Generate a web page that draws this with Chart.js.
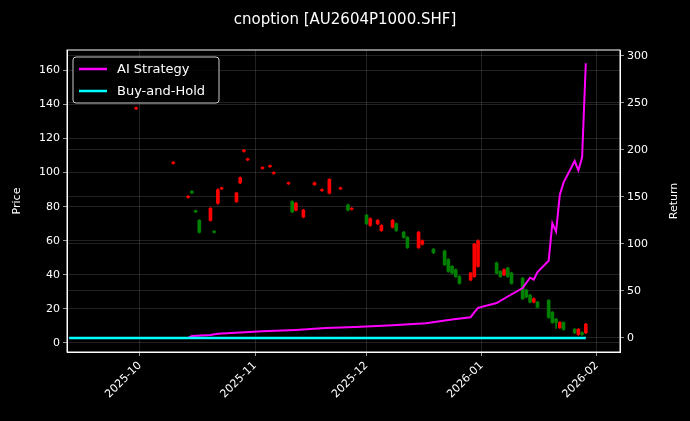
<!DOCTYPE html>
<html>
<head>
<meta charset="utf-8">
<script src="https://cdn.jsdelivr.net/npm/chart.js@4"></script>
<style>
  html, body { margin: 0; padding: 0; background: #000; }
  #wrap { width: 690px; height: 421px; }
</style>
</head>
<body>
<div id="wrap"><canvas id="myChart"></canvas></div>
<script>
// candles: date, open, close, high, low (red = up, green = down)
const candleDates = ['2025-09-30','2025-10-10','2025-10-14','2025-10-15','2025-10-16','2025-10-17','2025-10-20','2025-10-21','2025-10-22','2025-10-23','2025-10-27','2025-10-28','2025-10-29','2025-10-30','2025-11-03','2025-11-05','2025-11-06','2025-11-10','2025-11-11','2025-11-12','2025-11-14','2025-11-17','2025-11-19','2025-11-21','2025-11-24','2025-11-26','2025-11-27','2025-12-01','2025-12-02','2025-12-04','2025-12-05','2025-12-08','2025-12-09','2025-12-11','2025-12-12','2025-12-15','2025-12-16','2025-12-19','2025-12-22','2025-12-23','2025-12-24','2025-12-25','2025-12-26','2025-12-29','2025-12-30','2025-12-31','2026-01-05','2026-01-06','2026-01-07','2026-01-08','2026-01-09','2026-01-12','2026-01-13','2026-01-14','2026-01-15','2026-01-16','2026-01-19','2026-01-20','2026-01-21','2026-01-22','2026-01-23','2026-01-26','2026-01-27','2026-01-28','2026-01-29'];
const candleOpen  = [137.5,105.5,85.5,89,77.5,72,72,65.5,82,90.5,83,94,112.5,107.5,102.5,103.5,99.5,93.5,83,78,74,93,89.5,88,90.5,81,78.5,75,69,70,66,68,70,65,62,56,58,55,54,49,45,43,39,37,39,45,47,42,40,44,41,38,31,28,24,24,25,18,14,9,12,8,5,6,6];
const candleClose = [138,106,86,88,77,65,79,65,90,91,88,97,113,108,103,104,100,94,77,82,78,94,90,96,91,78,79,70,73,72,69,72,66,62,56,65,60,53,46,42,41,39,35,41,58,60,41,39,43,39,35,26,27,24,26,21,15,12,12,12,8,6,8,5,11];
const candleHigh  = [138.5,106.5,86.5,89.5,78,72.5,79.5,66,90.5,91.5,88.5,97.5,113.5,108.5,103.5,104.5,100.5,94.5,83.5,82.5,78.5,94.5,90.5,96.5,91.5,81.5,79.5,75.5,73.5,72.5,69.5,72.5,70.5,65.5,62.5,65.5,60.5,55.5,54.5,49.5,45.5,43.5,39.5,41.5,58.5,60.5,47.5,42.5,43.5,44.5,41.5,38.5,31.5,28.5,26.5,24.5,25.5,18.5,14.5,12.5,12.5,8.5,8.5,6.5,11.5];
const candleLow   = [137,105,85,88,76.5,64.5,71.5,64.5,81.5,90,82.5,93.5,112,107,102,103,99,93,76.5,77.5,73.5,92.5,89,87.5,90,77.5,78,69.5,68.5,69.5,65.5,67.5,65.5,61.5,55.5,55.5,57.5,52.5,45.5,41.5,40.5,38.5,34.5,36.5,38.5,44.5,40.5,38.5,39.5,38.5,34.5,25.5,26.5,23.5,23.5,20.5,14.5,11.5,8.5,8.5,7.5,5.5,4.5,4.5,5.5];

// return lines (right axis)
const strategyDates = ['2025-09-12','2025-10-14','2025-10-15','2025-10-20','2025-10-22','2025-11-03','2025-11-12','2025-11-20','2025-11-28','2025-12-08','2025-12-17','2025-12-24','2025-12-29','2025-12-30','2025-12-31','2026-01-05','2026-01-08','2026-01-12','2026-01-14','2026-01-15','2026-01-16','2026-01-19','2026-01-20','2026-01-21','2026-01-22','2026-01-23','2026-01-26','2026-01-27','2026-01-28','2026-01-29'];
const strategyValues = [0,0,2,3,4.5,7,8.5,10.5,11.5,13.5,15.5,19.5,22,27,32,37,44,53,64,62,70,82,122,113,152,165,188,178,192,292];
const holdDates = ['2025-09-12','2026-01-29'];
const holdValues = [0,0];

const monthTicks = ['2025-10-01','2025-11-01','2025-12-01','2026-01-01','2026-02-01'];
const priceTicks = [0, 20, 40, 60, 80, 100, 120, 140, 160];
const returnTicks = [0, 50, 100, 150, 200, 250, 300];

const base = Date.UTC(2025, 9, 1);
function dayOf(s) {
    const p = s.split('-').map(Number);
    return (Date.UTC(p[0], p[1] - 1, p[2]) - base) / 86400000;
}

const up = '#ff0000', down = '#008000';
const candleColors = candleOpen.map((o, i) => candleClose[i] >= o ? up : down);
const wickData = candleDates.map((d, i) => ({x: dayOf(d), y: [candleLow[i], candleHigh[i]]}));
const bodyData = candleDates.map((d, i) => ({x: dayOf(d), y: [Math.min(candleOpen[i], candleClose[i]), Math.max(candleOpen[i], candleClose[i])]}));

const grid = {color: 'rgba(255,255,255,0.22)', borderDash: [3, 3], lineWidth: 0.6, tickColor: '#fff', tickLength: 4};
const tickFont = {family: 'DejaVu Sans', size: 11};

const overlay = {
    id: 'overlay',
    afterDraw(chart) {
        const c = chart.ctx, a = chart.chartArea;
        c.save();
        c.fillStyle = '#fff';
        c.font = '15px DejaVu Sans';
        c.textAlign = 'center';
        c.textBaseline = 'middle';
        c.fillText('cnoption [AU2604P1000.SHF]', 345, 20);
        // axis titles
        c.font = '11px DejaVu Sans';
        c.save();
        c.translate(17, (a.top + a.bottom) / 2);
        c.rotate(-Math.PI / 2);
        c.fillText('Price', 0, 0);
        c.restore();
        c.save();
        c.translate(674, (a.top + a.bottom) / 2);
        c.rotate(-Math.PI / 2);
        c.fillText('Return', 0, 0);
        c.restore();
        // frame
        c.strokeStyle = '#fff';
        c.lineWidth = 1;
        c.strokeRect(a.left, a.top, a.right - a.left, a.bottom - a.top);
        // legend
        const x0 = a.left + 6, y0 = a.top + 7;
        c.fillStyle = 'rgba(0,0,0,0.8)';
        c.strokeStyle = '#ccc';
        c.beginPath();
        c.roundRect(x0, y0, 146, 46, 3);
        c.fill();
        c.stroke();
        c.font = '13px DejaVu Sans';
        c.textAlign = 'left';
        [['AI Strategy', '#ff00ff'], ['Buy-and-Hold', '#00ffff']].forEach((e, i) => {
            const y = y0 + 12 + i * 22;
            c.strokeStyle = e[1];
            c.lineWidth = 2.5;
            c.beginPath();
            c.moveTo(x0 + 6, y);
            c.lineTo(x0 + 34, y);
            c.stroke();
            c.fillStyle = '#fff';
            c.fillText(e[0], x0 + 44, y + 1);
        });
        c.restore();
    }
};

new Chart(document.getElementById('myChart'), {
    data: {
        datasets: [
            {
                type: 'line', label: 'AI Strategy', yAxisID: 'y2',
                data: strategyDates.map((d, i) => ({x: dayOf(d), y: strategyValues[i]})),
                borderColor: '#ff00ff', borderWidth: 2, pointRadius: 0, tension: 0, order: 1
            },
            {
                type: 'line', label: 'Buy-and-Hold', yAxisID: 'y2',
                data: holdDates.map((d, i) => ({x: dayOf(d), y: holdValues[i]})),
                borderColor: '#00ffff', borderWidth: 2.5, pointRadius: 0, order: 0
            },
            {
                type: 'bar', label: 'wick', yAxisID: 'y', data: wickData,
                backgroundColor: candleColors, barThickness: 1, grouped: false, order: 3
            },
            {
                type: 'bar', label: 'body', yAxisID: 'y', data: bodyData,
                backgroundColor: candleColors, barThickness: 3, minBarLength: 1, grouped: false, order: 2
            }
        ]
    },
    options: {
        responsive: true,
        maintainAspectRatio: false,
        animation: false,
        layout: {padding: {top: 50, left: 0, right: 0, bottom: 0}},
        plugins: {legend: {display: false}, tooltip: {enabled: false}},
        scales: {
            x: {
                type: 'linear', min: -19.6, max: 129.2, offset: false,
                grid: Object.assign({offset: false}, grid),
                border: {color: '#fff'},
                afterBuildTicks(s) { s.ticks = monthTicks.map(m => ({value: dayOf(m)})); },
                afterFit(s) { s.height = 69; },
                ticks: {
                    color: '#fff', font: tickFont, maxRotation: 45, minRotation: 45,
                    callback: (v) => { const i = monthTicks.findIndex(m => dayOf(m) === v); return i >= 0 ? monthTicks[i].slice(0, 7) : ''; }
                }
            },
            y: {
                position: 'left', min: -5.3, max: 172,
                grid: grid, border: {color: '#fff'},
                afterBuildTicks(s) { s.ticks = priceTicks.map(v => ({value: v})); },
                afterFit(s) { s.width = 67; },
                ticks: {color: '#fff', font: tickFont}
            },
            y2: {
                position: 'right', min: -15, max: 306,
                grid: grid, border: {color: '#fff'},
                afterBuildTicks(s) { s.ticks = returnTicks.map(v => ({value: v})); },
                afterFit(s) { s.width = 70; },
                ticks: {color: '#fff', font: tickFont}
            }
        }
    },
    plugins: [overlay]
});
</script>
</body>
</html>
